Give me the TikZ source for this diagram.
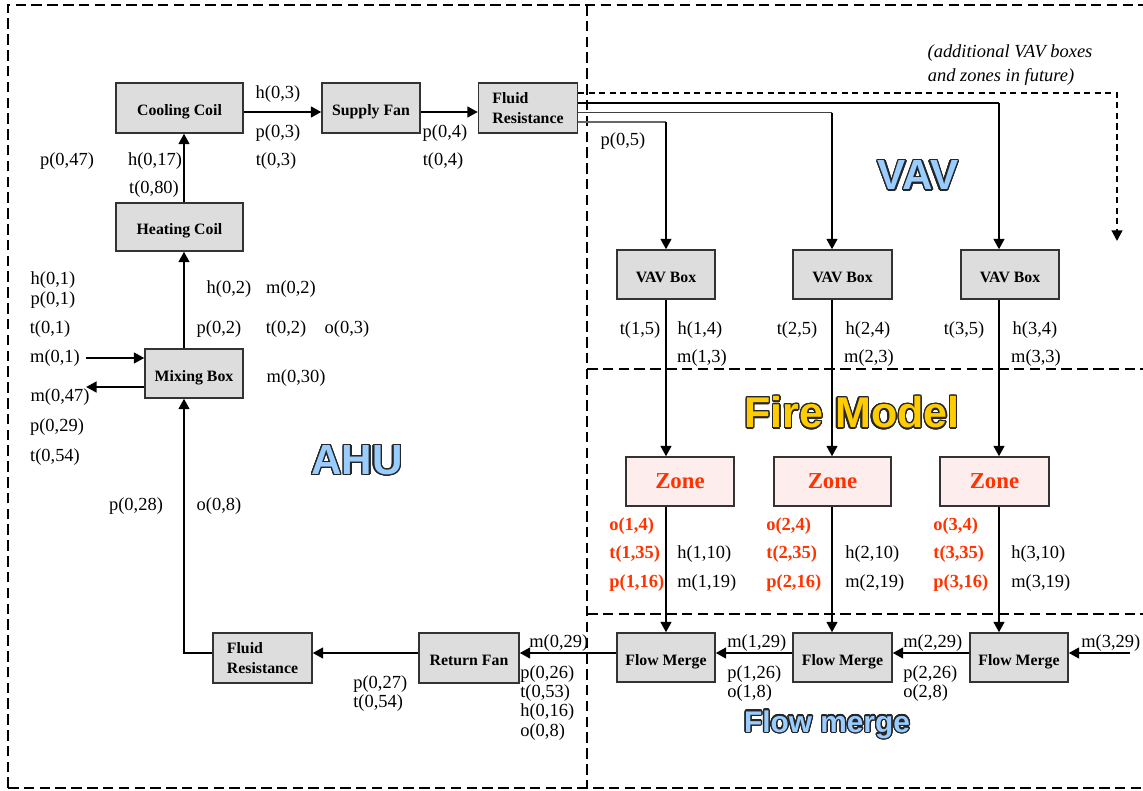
\documentclass[tikz,border=0pt]{standalone}
\usepackage{fontspec}
\setmainfont{Liberation Serif}
\newfontfamily\arialfont{Liberation Sans}
\usepackage[copies]{contour}
\contourlength{0.75pt}
\contournumber{24}
\usetikzlibrary{arrows.meta}
\definecolor{boxgray}{HTML}{DDDDDD}
\definecolor{zonefill}{HTML}{FDEDED}
\definecolor{zonered}{HTML}{FF3300}
\definecolor{ahublue}{HTML}{99CCFF}
\definecolor{fireyel}{HTML}{FFCC00}
\newcommand{\bigword}[2]{\contour{black!85}{\textcolor{#1}{#2}}}
\tikzset{
  box/.style={draw=black!80, fill=boxgray, line width=0.7pt, inner sep=0pt, align=center,
    text height=9pt, text depth=0pt,
    font=\bfseries\fontsize{9}{11}\selectfont},
  box2/.style={draw=black!80, fill=boxgray, line width=0.7pt, inner sep=0pt, align=left,
    font=\bfseries\fontsize{9}{11.5}\selectfont},
  zonebox/.style={draw=black!80, fill=zonefill, line width=0.7pt, inner sep=0pt,
    font=\bfseries\fontsize{13}{15}\selectfont, text=zonered},
  lab/.style={inner sep=0pt, font=\fontsize{10.5}{12}\selectfont},
  rlab/.style={inner sep=0pt, font=\bfseries\fontsize{10.5}{12}\selectfont, text=zonered},
  arr/.style={line width=1.5pt, -{Triangle[length=6pt,width=6pt]}},
  feed/.style={line width=0.6pt},
  bord/.style={line width=0.9pt, dash pattern=on 6pt off 3pt},
  futdash/.style={line width=1.2pt, dash pattern=on 3.5pt off 2.5pt, -{Triangle[length=6pt,width=6pt]}},
  bigblue/.style={inner sep=0pt, font=\arialfont\bfseries\fontsize{24}{28}\selectfont},
}
\begin{document}
\begin{tikzpicture}[x=0.02cm,y=-0.02cm]
\useasboundingbox (0,0) rectangle (1143,791);
% dashed region borders
\draw[bord] (8,788) -- (8,5) -- (1143,5);
\draw[bord] (8,788) -- (1143,788);
\draw[bord] (587,5) -- (587,788);
\draw[bord] (587,369) -- (1143,369);
\draw[bord] (587,614) -- (1143,614);

% boxes
\node[box, minimum width=127*0.02cm, minimum height=50*0.02cm] (cc) at (179.5,108) {Cooling Coil};
\node[box, minimum width=98*0.02cm, minimum height=50*0.02cm] (sf) at (371,108) {Supply Fan};
\node[box2, minimum width=99*0.02cm, minimum height=50*0.02cm] (frt) at (528,108) {Fluid\\Resistance};
\node[box, minimum width=127*0.02cm, minimum height=48*0.02cm] (hc) at (179.5,227) {Heating Coil};
\node[box, minimum width=98*0.02cm, minimum height=49*0.02cm] (mb) at (194,373.5) {Mixing Box};
\node[box, minimum width=98*0.02cm, minimum height=49*0.02cm] (vav1) at (666,274.5) {VAV Box};
\node[box, minimum width=99*0.02cm, minimum height=49*0.02cm] (vav2) at (842.5,274.5) {VAV Box};
\node[box, minimum width=98*0.02cm, minimum height=49*0.02cm] (vav3) at (1010,274.5) {VAV Box};
\node[zonebox, minimum width=108*0.02cm, minimum height=49*0.02cm] (zone1) at (680,481.5) {Zone};
\node[zonebox, minimum width=117*0.02cm, minimum height=49*0.02cm] (zone2) at (832.5,481.5) {Zone};
\node[zonebox, minimum width=109*0.02cm, minimum height=49*0.02cm] (zone3) at (994.5,481.5) {Zone};
\node[box2, minimum width=99*0.02cm, minimum height=50*0.02cm] (frb) at (262.5,658) {Fluid\\Resistance};
\node[box, minimum width=100*0.02cm, minimum height=50*0.02cm] (rf) at (469,658) {Return Fan};
\node[box, minimum width=98*0.02cm, minimum height=49*0.02cm] (fm1) at (666,657.5) {Flow Merge};
\node[box, minimum width=99*0.02cm, minimum height=49*0.02cm] (fm2) at (842.5,657.5) {Flow Merge};
\node[box, minimum width=98*0.02cm, minimum height=49*0.02cm] (fm3) at (1019,657.5) {Flow Merge};

% helper coordinates
\coordinate (ytop) at (0,112);
\coordinate (ybot) at (0,653);
\coordinate (c0) at (184,0);
\coordinate (c1) at (666,0);
\coordinate (c2) at (832,0);
\coordinate (c3) at (999,0);
\coordinate (y1) at (0,103);
\coordinate (y2) at (0,112.5);
\coordinate (y3) at (0,122);
\coordinate (fut) at (1117,93);
\coordinate (futend) at (1117,241);
\coordinate (min) at (86,358);
\coordinate (mout) at (86,387);
\coordinate (m3in) at (1130,653);

% AHU supply path
\draw[arr] (cc.east |- ytop) -- (sf.west |- ytop);
\draw[arr] (sf.east |- ytop) -- (frt.west |- ytop);
\draw[arr] (hc.north -| c0) -- (cc.south -| c0);
\draw[arr] (mb.north -| c0) -- (hc.south -| c0);
\draw[arr] (min) -- (mb.west |- min);
\draw[arr] (mb.west |- mout) -- (mout);

% supply to VAV boxes
\draw[futdash] (frt.east |- fut) -- (fut) -- (futend);
\draw[feed] (frt.east |- y1) -- (c3 |- y1);
\draw[feed, black!75] (frt.east |- y2) -- (c2 |- y2);
\draw[feed, black!60] (frt.east |- y3) -- (c1 |- y3);
\draw[arr] (c3 |- y1) -- (vav3.north -| c3);
\draw[arr] (c2 |- y2) -- (vav2.north -| c2);
\draw[arr] (c1 |- y3) -- (vav1.north -| c1);

% VAV to zones to flow merges
\draw[arr] (vav1.south -| c1) -- (zone1.north -| c1);
\draw[arr] (vav2.south -| c2) -- (zone2.north -| c2);
\draw[arr] (vav3.south -| c3) -- (zone3.north -| c3);
\draw[arr] (zone1.south -| c1) -- (fm1.north -| c1);
\draw[arr] (zone2.south -| c2) -- (fm2.north -| c2);
\draw[arr] (zone3.south -| c3) -- (fm3.north -| c3);

% return path
\draw[arr] (m3in) -- (fm3.east |- ybot);
\draw[arr] (fm3.west |- ybot) -- (fm2.east |- ybot);
\draw[arr] (fm2.west |- ybot) -- (fm1.east |- ybot);
\draw[arr] (fm1.west |- ybot) -- (rf.east |- ybot);
\draw[arr] (rf.west |- ybot) -- (frb.east |- ybot);
\draw[arr] (frb.west |- ybot) -| (mb.south -| c0);

% big region titles
\node[bigblue] (tahu) at (357,461) {\bigword{ahublue}{AHU}};
\node[bigblue] (tvav) at (918,176) {\bigword{ahublue}{VAV}};
\node[bigblue, font=\arialfont\bfseries\fontsize{24.5}{28}\selectfont] (tfire) at (852,413) {\bigword{fireyel}{Fire Model}};
\node[bigblue, font=\arialfont\bfseries\fontsize{17}{20}\selectfont] (tflow) at (827,725) {\bigword{ahublue}{Flow merge}};
\node[lab, font=\itshape\fontsize{10.5}{12}\selectfont] (fut1) at (1010,53) {(additional VAV boxes};
\node[lab, font=\itshape\fontsize{10.5}{12}\selectfont] (fut2) at (1001,77) {and zones in future)};

% AHU labels
\node[lab] at (278,94) {h(0,3)};
\node[lab] at (278,133) {p(0,3)};
\node[lab] at (276,161) {t(0,3)};
\node[lab] at (445,133) {p(0,4)};
\node[lab] at (443,161) {t(0,4)};
\node[lab] at (67,161) {p(0,47)};
\node[lab] at (155,161) {h(0,17)};
\node[lab] at (154,189) {t(0,80)};
\node[lab] at (53,280) {h(0,1)};
\node[lab] at (53,300) {p(0,1)};
\node[lab] at (50,329) {t(0,1)};
\node[lab] at (55,358) {m(0,1)};
\node[lab] at (60,397) {m(0,47)};
\node[lab] at (57,427) {p(0,29)};
\node[lab] at (55,457) {t(0,54)};
\node[lab] at (229,289) {h(0,2)};
\node[lab] at (291,289) {m(0,2)};
\node[lab] at (219,329) {p(0,2)};
\node[lab] at (286,329) {t(0,2)};
\node[lab] at (347,329) {o(0,3)};
\node[lab] at (296,378) {m(0,30)};
\node[lab] at (136,506) {p(0,28)};
\node[lab] at (219,506) {o(0,8)};
\node[lab] at (623,141) {p(0,5)};

% return labels
\node[lab, anchor=west] at (529,643) {m(0,29)};
\node[lab, anchor=west] at (520,674) {p(0,26)};
\node[lab, anchor=west] at (520,693) {t(0,53)};
\node[lab, anchor=west] at (520,712) {h(0,16)};
\node[lab, anchor=west] at (520,732) {o(0,8)};
\node[lab, anchor=west] at (353,684) {p(0,27)};
\node[lab, anchor=west] at (353,703) {t(0,54)};
\node[lab, anchor=west] at (727,643) {m(1,29)};
\node[lab, anchor=west] at (727,674) {p(1,26)};
\node[lab, anchor=west] at (727,693) {o(1,8)};
\node[lab, anchor=west] at (903,643) {m(2,29)};
\node[lab, anchor=west] at (903,674) {p(2,26)};
\node[lab, anchor=west] at (903,693) {o(2,8)};
\node[lab, anchor=west] at (1081,643) {m(3,29)};

% VAV labels
\node[lab] at (640,330) {t(1,5)};
\node[lab] at (700,330) {h(1,4)};
\node[lab] at (702,358) {m(1,3)};
\node[lab] at (797,330) {t(2,5)};
\node[lab] at (868,330) {h(2,4)};
\node[lab] at (869,358) {m(2,3)};
\node[lab] at (964,330) {t(3,5)};
\node[lab] at (1035,330) {h(3,4)};
\node[lab] at (1036,358) {m(3,3)};

% zone labels
\node[rlab, anchor=west] at (609,526) {o(1,4)};
\node[rlab, anchor=west] at (609,554) {t(1,35)};
\node[rlab, anchor=west] at (609,583) {p(1,16)};
\node[lab, anchor=west] at (677,554) {h(1,10)};
\node[lab, anchor=west] at (677,583) {m(1,19)};
\node[rlab, anchor=west] at (766,526) {o(2,4)};
\node[rlab, anchor=west] at (766,554) {t(2,35)};
\node[rlab, anchor=west] at (766,583) {p(2,16)};
\node[lab, anchor=west] at (845,554) {h(2,10)};
\node[lab, anchor=west] at (845,583) {m(2,19)};
\node[rlab, anchor=west] at (933,526) {o(3,4)};
\node[rlab, anchor=west] at (933,554) {t(3,35)};
\node[rlab, anchor=west] at (933,583) {p(3,16)};
\node[lab, anchor=west] at (1011,554) {h(3,10)};
\node[lab, anchor=west] at (1011,583) {m(3,19)};
\end{tikzpicture}
\end{document}
